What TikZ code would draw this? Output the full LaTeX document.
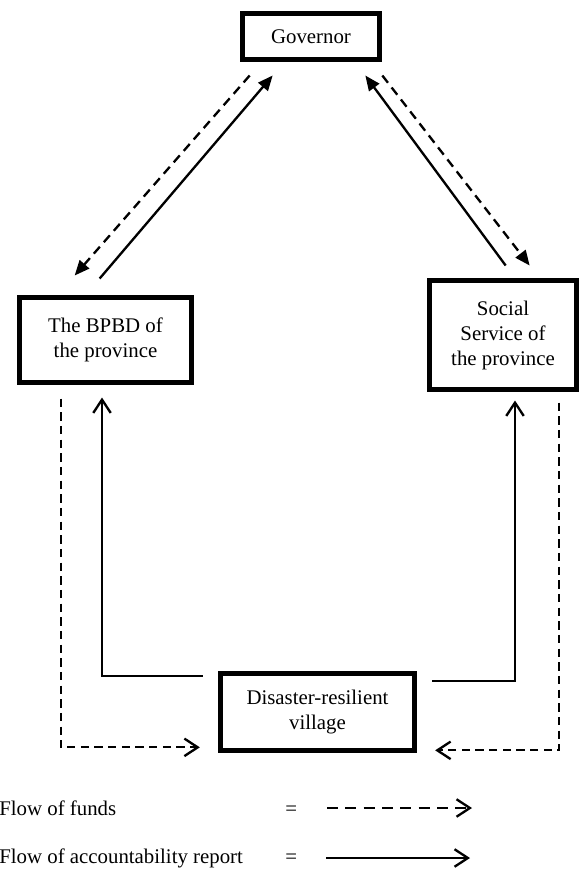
\documentclass[tikz,border=0pt]{standalone}
\usepackage{fontspec}
\setmainfont{Liberation Serif}
\usetikzlibrary{arrows.meta,positioning}

\begin{document}
\begin{tikzpicture}[
  x=0.6pt, y=-0.6pt,
  font=\fontsize{12.5}{15}\selectfont,
  % ── boxes ────────────────────────────────────────────────────────────────
  box/.style={
    draw=black, line width=3pt, fill=white,
    align=center, inner sep=2pt
  },
  % ── plain text (legend) ──────────────────────────────────────────────────
  txt/.style={anchor=base west, inner sep=0pt},
  % ── arrows ───────────────────────────────────────────────────────────────
  diagrep/.style={-{Triangle[length=9pt,width=7.5pt]}, line width=1.4pt},
  diagfund/.style={diagrep, dash pattern=on 5.5pt off 3.6pt},
  report/.style={-{Straight Barb[length=8pt,width=10.5pt,line width=1.4pt]}, line width=1pt},
  funds/.style={report, line width=1.2pt, dash pattern=on 5pt off 3.2pt},
  legfund/.style={report, line width=1.5pt, dash pattern=on 6.5pt off 4.5pt},
  legrep/.style={report, line width=1.5pt},
]
\useasboundingbox (0,0) rectangle (581,870);

%% ── Boxes ──
\node[box, minimum width=82pt, minimum height=27.6pt] (gov) at (311,36.5) {Governor};
\node[box, minimum width=103pt, minimum height=51pt] (bpbd) at (105.5,340)
      {The BPBD of\\the province};
\node[box, minimum width=88pt, minimum height=65.4pt] (soc) at (503,335)
      {Social\\Service of\\the province};
\node[box, minimum width=116pt, minimum height=46pt] (vil) at (317.5,712)
      {Disaster-resilient\\village};

%% ── Governor <-> province offices ──
\draw[diagfund] ([shift={(9.5,13.5)}]gov.south west) -- ([shift={(57.5,-19.5)}]bpbd.north west);
\draw[diagrep]  ([shift={(82.5,-16.5)}]bpbd.north west) -- ([shift={(32.5,13.5)}]gov.south west);
\draw[diagrep]  ([shift={(78.5,-12.5)}]soc.north west) -- ([shift={(-16.5,13.5)}]gov.south east);
\draw[diagfund] ([shift={(0.5,13.5)}]gov.south east) -- ([shift={(102.5,-12.5)}]soc.north west);

%% ── Village <-> province offices ──
\draw[report] ([shift={(-15.5,4.5)}]vil.north west) -| ([shift={(-3.5,12.5)}]bpbd.south);
\draw[funds]  ([shift={(43.5,13.5)}]bpbd.south west) |- ([shift={(-18.5,-5.5)}]vil.south west);
\draw[report] ([shift={(15.5,9.5)}]vil.north east) -| ([shift={(12,8.5)}]soc.south);
\draw[funds]  ([shift={(-19.5,10.5)}]soc.south east) |- ([shift={(18.5,-2.5)}]vil.south east);

%% ── Legend ──
\node[txt] (lfund) at (-1,815) {Flow of funds};
\node[txt] (lrep)  at (-1,863) {Flow of accountability report};
\node[txt] (eq1) at (285,815) {=};
\node[txt] (eq2) at (285,863) {=};
\coordinate (f1) at (327,808);
\coordinate (f2) at (472,808);
\coordinate (r1) at (326,858);
\coordinate (r2) at (470,858);
\draw[legfund] (f1) -- (f2);
\draw[legrep]  (r1) -- (r2);

\end{tikzpicture}
\end{document}
